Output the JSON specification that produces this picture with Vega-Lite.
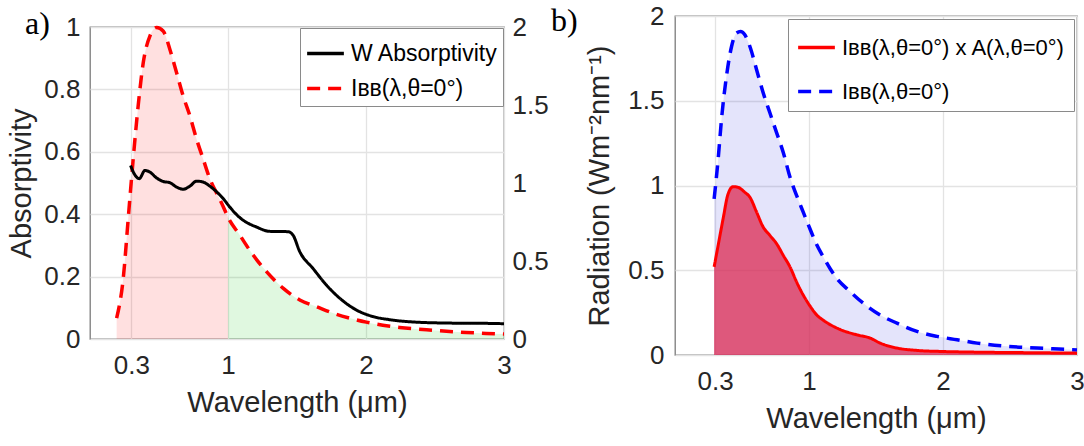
{
  "$schema": "https://vega.github.io/schema/vega-lite/v6.json",
  "padding": {"left": 7, "top": 2, "right": 0, "bottom": 0},
  "background": "white",
  "config": {
    "font": "Liberation Sans",
    "view": {"stroke": "#7b7b7b", "strokeWidth": 1.3},
    "axis": {
      "labelFont": "Liberation Sans", "labelFontSize": 26, "labelColor": "#262626",
      "titleFont": "Liberation Sans", "titleFontSize": 29, "titleFontWeight": "normal", "titleColor": "#262626",
      "domain": false, "ticks": false, "gridColor": "#e3e3e3", "gridWidth": 1.3,
      "labelFlush": false, "labelOverlap": false
    },
    "legend": {
      "labelFont": "Liberation Sans", "labelFontSize": 23, "labelColor": "black", "labelLimit": 600,
      "symbolType": "stroke", "symbolSize": 1350, "symbolStrokeWidth": 3.5,
      "strokeColor": "#8a8a8a", "fillColor": "white", "padding": 5, "rowPadding": 2, "labelOffset": 5
    },
    "title": {"font": "Liberation Serif", "fontSize": 32, "fontWeight": "normal", "color": "black"}
  },
  "datasets": {
    "aIbb": [
      {"wl": 0.193, "v": 0.134, "s": "Iʙʙ(λ,θ=0°)"},
      {"wl": 0.241, "v": 0.39, "s": "Iʙʙ(λ,θ=0°)"},
      {"wl": 0.277, "v": 0.772, "s": "Iʙʙ(λ,θ=0°)"},
      {"wl": 0.313, "v": 1.154, "s": "Iʙʙ(λ,θ=0°)"},
      {"wl": 0.349, "v": 1.494, "s": "Iʙʙ(λ,θ=0°)"},
      {"wl": 0.386, "v": 1.772, "s": "Iʙʙ(λ,θ=0°)"},
      {"wl": 0.434, "v": 1.942, "s": "Iʙʙ(λ,θ=0°)"},
      {"wl": 0.483, "v": 1.996, "s": "Iʙʙ(λ,θ=0°)"},
      {"wl": 0.530, "v": 1.974, "s": "Iʙʙ(λ,θ=0°)"},
      {"wl": 0.579, "v": 1.856, "s": "Iʙʙ(λ,θ=0°)"},
      {"wl": 0.627, "v": 1.708, "s": "Iʙʙ(λ,θ=0°)"},
      {"wl": 0.675, "v": 1.558, "s": "Iʙʙ(λ,θ=0°)"},
      {"wl": 0.724, "v": 1.43, "s": "Iʙʙ(λ,θ=0°)"},
      {"wl": 0.772, "v": 1.282, "s": "Iʙʙ(λ,θ=0°)"},
      {"wl": 0.820, "v": 1.154, "s": "Iʙʙ(λ,θ=0°)"},
      {"wl": 0.868, "v": 1.028, "s": "Iʙʙ(λ,θ=0°)"},
      {"wl": 0.917, "v": 0.936, "s": "Iʙʙ(λ,θ=0°)"},
      {"wl": 0.965, "v": 0.85, "s": "Iʙʙ(λ,θ=0°)"},
      {"wl": 1.0, "v": 0.78, "s": "Iʙʙ(λ,θ=0°)"},
      {"wl": 1.085, "v": 0.666, "s": "Iʙʙ(λ,θ=0°)"},
      {"wl": 1.182, "v": 0.538, "s": "Iʙʙ(λ,θ=0°)"},
      {"wl": 1.279, "v": 0.432, "s": "Iʙʙ(λ,θ=0°)"},
      {"wl": 1.399, "v": 0.326, "s": "Iʙʙ(λ,θ=0°)"},
      {"wl": 1.520, "v": 0.25, "s": "Iʙʙ(λ,θ=0°)"},
      {"wl": 1.640, "v": 0.208, "s": "Iʙʙ(λ,θ=0°)"},
      {"wl": 1.760, "v": 0.166, "s": "Iʙʙ(λ,θ=0°)"},
      {"wl": 1.881, "v": 0.134, "s": "Iʙʙ(λ,θ=0°)"},
      {"wl": 2.002, "v": 0.108, "s": "Iʙʙ(λ,θ=0°)"},
      {"wl": 2.122, "v": 0.088, "s": "Iʙʙ(λ,θ=0°)"},
      {"wl": 2.243, "v": 0.074, "s": "Iʙʙ(λ,θ=0°)"},
      {"wl": 2.484, "v": 0.056, "s": "Iʙʙ(λ,θ=0°)"},
      {"wl": 2.726, "v": 0.042, "s": "Iʙʙ(λ,θ=0°)"},
      {"wl": 2.870, "v": 0.036, "s": "Iʙʙ(λ,θ=0°)"},
      {"wl": 3.0, "v": 0.032, "s": "Iʙʙ(λ,θ=0°)"}
    ],
    "aAbs": [
      {"wl": 0.294, "v": 0.556, "s": "W Absorptivity"},
      {"wl": 0.320, "v": 0.530, "s": "W Absorptivity"},
      {"wl": 0.357, "v": 0.514, "s": "W Absorptivity"},
      {"wl": 0.398, "v": 0.540, "s": "W Absorptivity"},
      {"wl": 0.434, "v": 0.535, "s": "W Absorptivity"},
      {"wl": 0.483, "v": 0.516, "s": "W Absorptivity"},
      {"wl": 0.530, "v": 0.505, "s": "W Absorptivity"},
      {"wl": 0.579, "v": 0.501, "s": "W Absorptivity"},
      {"wl": 0.627, "v": 0.487, "s": "W Absorptivity"},
      {"wl": 0.675, "v": 0.480, "s": "W Absorptivity"},
      {"wl": 0.724, "v": 0.490, "s": "W Absorptivity"},
      {"wl": 0.772, "v": 0.506, "s": "W Absorptivity"},
      {"wl": 0.820, "v": 0.503, "s": "W Absorptivity"},
      {"wl": 0.868, "v": 0.490, "s": "W Absorptivity"},
      {"wl": 0.917, "v": 0.472, "s": "W Absorptivity"},
      {"wl": 0.965, "v": 0.450, "s": "W Absorptivity"},
      {"wl": 1.013, "v": 0.423, "s": "W Absorptivity"},
      {"wl": 1.073, "v": 0.394, "s": "W Absorptivity"},
      {"wl": 1.109, "v": 0.381, "s": "W Absorptivity"},
      {"wl": 1.206, "v": 0.359, "s": "W Absorptivity"},
      {"wl": 1.302, "v": 0.345, "s": "W Absorptivity"},
      {"wl": 1.435, "v": 0.344, "s": "W Absorptivity"},
      {"wl": 1.471, "v": 0.333, "s": "W Absorptivity"},
      {"wl": 1.520, "v": 0.280, "s": "W Absorptivity"},
      {"wl": 1.616, "v": 0.226, "s": "W Absorptivity"},
      {"wl": 1.713, "v": 0.173, "s": "W Absorptivity"},
      {"wl": 1.809, "v": 0.131, "s": "W Absorptivity"},
      {"wl": 1.930, "v": 0.093, "s": "W Absorptivity"},
      {"wl": 2.050, "v": 0.072, "s": "W Absorptivity"},
      {"wl": 2.171, "v": 0.062, "s": "W Absorptivity"},
      {"wl": 2.364, "v": 0.054, "s": "W Absorptivity"},
      {"wl": 2.605, "v": 0.051, "s": "W Absorptivity"},
      {"wl": 2.894, "v": 0.050, "s": "W Absorptivity"},
      {"wl": 3.0, "v": 0.049, "s": "W Absorptivity"}
    ],
    "bIbb": [
      {"wl": 0.292, "v": 0.921, "s": "Iʙʙ(λ,θ=0°)"},
      {"wl": 0.322, "v": 1.155, "s": "Iʙʙ(λ,θ=0°)"},
      {"wl": 0.347, "v": 1.390, "s": "Iʙʙ(λ,θ=0°)"},
      {"wl": 0.384, "v": 1.644, "s": "Iʙʙ(λ,θ=0°)"},
      {"wl": 0.422, "v": 1.820, "s": "Iʙʙ(λ,θ=0°)"},
      {"wl": 0.459, "v": 1.899, "s": "Iʙʙ(λ,θ=0°)"},
      {"wl": 0.489, "v": 1.908, "s": "Iʙʙ(λ,θ=0°)"},
      {"wl": 0.521, "v": 1.889, "s": "Iʙʙ(λ,θ=0°)"},
      {"wl": 0.559, "v": 1.820, "s": "Iʙʙ(λ,θ=0°)"},
      {"wl": 0.609, "v": 1.683, "s": "Iʙʙ(λ,θ=0°)"},
      {"wl": 0.658, "v": 1.547, "s": "Iʙʙ(λ,θ=0°)"},
      {"wl": 0.708, "v": 1.429, "s": "Iʙʙ(λ,θ=0°)"},
      {"wl": 0.758, "v": 1.312, "s": "Iʙʙ(λ,θ=0°)"},
      {"wl": 0.808, "v": 1.195, "s": "Iʙʙ(λ,θ=0°)"},
      {"wl": 0.858, "v": 1.05, "s": "Iʙʙ(λ,θ=0°)"},
      {"wl": 0.908, "v": 0.94, "s": "Iʙʙ(λ,θ=0°)"},
      {"wl": 0.957, "v": 0.843, "s": "Iʙʙ(λ,θ=0°)"},
      {"wl": 1.007, "v": 0.745, "s": "Iʙʙ(λ,θ=0°)"},
      {"wl": 1.058, "v": 0.65, "s": "Iʙʙ(λ,θ=0°)"},
      {"wl": 1.107, "v": 0.578, "s": "Iʙʙ(λ,θ=0°)"},
      {"wl": 1.157, "v": 0.51, "s": "Iʙʙ(λ,θ=0°)"},
      {"wl": 1.207, "v": 0.452, "s": "Iʙʙ(λ,θ=0°)"},
      {"wl": 1.307, "v": 0.374, "s": "Iʙʙ(λ,θ=0°)"},
      {"wl": 1.406, "v": 0.305, "s": "Iʙʙ(λ,θ=0°)"},
      {"wl": 1.531, "v": 0.236, "s": "Iʙʙ(λ,θ=0°)"},
      {"wl": 1.656, "v": 0.188, "s": "Iʙʙ(λ,θ=0°)"},
      {"wl": 1.806, "v": 0.139, "s": "Iʙʙ(λ,θ=0°)"},
      {"wl": 1.955, "v": 0.110, "s": "Iʙʙ(λ,θ=0°)"},
      {"wl": 2.105, "v": 0.090, "s": "Iʙʙ(λ,θ=0°)"},
      {"wl": 2.254, "v": 0.070, "s": "Iʙʙ(λ,θ=0°)"},
      {"wl": 2.479, "v": 0.051, "s": "Iʙʙ(λ,θ=0°)"},
      {"wl": 2.703, "v": 0.041, "s": "Iʙʙ(λ,θ=0°)"},
      {"wl": 2.865, "v": 0.035, "s": "Iʙʙ(λ,θ=0°)"},
      {"wl": 3.0, "v": 0.030, "s": "Iʙʙ(λ,θ=0°)"}
    ],
    "bProd": [
      {"wl": 0.292, "v": 0.520, "s": "Iʙʙ(λ,θ=0°) x A(λ,θ=0°)"},
      {"wl": 0.322, "v": 0.647, "s": "Iʙʙ(λ,θ=0°) x A(λ,θ=0°)"},
      {"wl": 0.359, "v": 0.804, "s": "Iʙʙ(λ,θ=0°) x A(λ,θ=0°)"},
      {"wl": 0.396, "v": 0.950, "s": "Iʙʙ(λ,θ=0°) x A(λ,θ=0°)"},
      {"wl": 0.434, "v": 0.993, "s": "Iʙʙ(λ,θ=0°) x A(λ,θ=0°)"},
      {"wl": 0.471, "v": 0.989, "s": "Iʙʙ(λ,θ=0°) x A(λ,θ=0°)"},
      {"wl": 0.521, "v": 0.960, "s": "Iʙʙ(λ,θ=0°) x A(λ,θ=0°)"},
      {"wl": 0.559, "v": 0.931, "s": "Iʙʙ(λ,θ=0°) x A(λ,θ=0°)"},
      {"wl": 0.609, "v": 0.843, "s": "Iʙʙ(λ,θ=0°) x A(λ,θ=0°)"},
      {"wl": 0.658, "v": 0.755, "s": "Iʙʙ(λ,θ=0°) x A(λ,θ=0°)"},
      {"wl": 0.708, "v": 0.706, "s": "Iʙʙ(λ,θ=0°) x A(λ,θ=0°)"},
      {"wl": 0.758, "v": 0.657, "s": "Iʙʙ(λ,θ=0°) x A(λ,θ=0°)"},
      {"wl": 0.808, "v": 0.588, "s": "Iʙʙ(λ,θ=0°) x A(λ,θ=0°)"},
      {"wl": 0.858, "v": 0.52, "s": "Iʙʙ(λ,θ=0°) x A(λ,θ=0°)"},
      {"wl": 0.908, "v": 0.43, "s": "Iʙʙ(λ,θ=0°) x A(λ,θ=0°)"},
      {"wl": 0.957, "v": 0.354, "s": "Iʙʙ(λ,θ=0°) x A(λ,θ=0°)"},
      {"wl": 1.007, "v": 0.29, "s": "Iʙʙ(λ,θ=0°) x A(λ,θ=0°)"},
      {"wl": 1.058, "v": 0.236, "s": "Iʙʙ(λ,θ=0°) x A(λ,θ=0°)"},
      {"wl": 1.107, "v": 0.205, "s": "Iʙʙ(λ,θ=0°) x A(λ,θ=0°)"},
      {"wl": 1.219, "v": 0.155, "s": "Iʙʙ(λ,θ=0°) x A(λ,θ=0°)"},
      {"wl": 1.357, "v": 0.119, "s": "Iʙʙ(λ,θ=0°) x A(λ,θ=0°)"},
      {"wl": 1.456, "v": 0.100, "s": "Iʙʙ(λ,θ=0°) x A(λ,θ=0°)"},
      {"wl": 1.531, "v": 0.070, "s": "Iʙʙ(λ,θ=0°) x A(λ,θ=0°)"},
      {"wl": 1.656, "v": 0.041, "s": "Iʙʙ(λ,θ=0°) x A(λ,θ=0°)"},
      {"wl": 1.806, "v": 0.027, "s": "Iʙʙ(λ,θ=0°) x A(λ,θ=0°)"},
      {"wl": 1.980, "v": 0.021, "s": "Iʙʙ(λ,θ=0°) x A(λ,θ=0°)"},
      {"wl": 2.229, "v": 0.017, "s": "Iʙʙ(λ,θ=0°) x A(λ,θ=0°)"},
      {"wl": 2.603, "v": 0.014, "s": "Iʙʙ(λ,θ=0°) x A(λ,θ=0°)"},
      {"wl": 2.877, "v": 0.012, "s": "Iʙʙ(λ,θ=0°) x A(λ,θ=0°)"},
      {"wl": 3.0, "v": 0.011, "s": "Iʙʙ(λ,θ=0°) x A(λ,θ=0°)"}
    ]
  },
  "hconcat": [
    {
      "vconcat": [
        {
          "width": 414, "height": 11,
          "view": {"stroke": null},
          "data": {"values": [{"k": 0}]},
          "mark": {"type": "point", "opacity": 0},
          "encoding": {}
        },
        {
          "width": 414, "height": 312,
          "title": {"text": "a)", "anchor": "start", "frame": "group", "dx": -65, "dy": 48, "offset": -4, "baseline": "alphabetic"},
          "encoding": {
            "x": {"field": "wl", "type": "quantitative", "scale": {"domain": [0, 3], "nice": false, "zero": false},
                  "axis": {"values": [0.3, 1, 2, 3], "format": "~g", "title": "Wavelength (μm)", "labelPadding": 13, "titlePadding": 10}}
          },
          "layer": [
            {
              "encoding": {
                "y": {"field": "v", "type": "quantitative", "scale": {"domain": [0, 2], "nice": false},
                      "axis": {"orient": "right", "values": [0, 0.5, 1, 1.5, 2], "format": "~g", "grid": false, "title": null, "labelPadding": 8}}
              },
              "layer": [
                {"data": {"name": "aIbb"}, "transform": [{"filter": "datum.wl <= 1"}],
                 "mark": {"type": "area", "color": "#ff0000", "opacity": 0.12, "interpolate": "monotone"}},
                {"data": {"name": "aIbb"}, "transform": [{"filter": "datum.wl >= 1"}],
                 "mark": {"type": "area", "color": "#00c800", "opacity": 0.12, "interpolate": "monotone"}},
                {"data": {"name": "aIbb"},
                 "mark": {"type": "line", "strokeWidth": 3.5, "interpolate": "monotone"},
                 "encoding": {
                   "color": {"field": "s", "type": "nominal", "scale": {"domain": ["W Absorptivity", "Iʙʙ(λ,θ=0°)"], "range": ["#000000", "#ff0000"]},
                             "legend": {"title": null, "orient": "top-right", "offset": 1}},
                   "strokeDash": {"field": "s", "type": "nominal", "scale": {"domain": ["W Absorptivity", "Iʙʙ(λ,θ=0°)"], "range": [[1, 0], [13, 8]]},
                             "legend": {"title": null, "orient": "top-right", "offset": 1}}
                 }}
              ]
            },
            {
              "data": {"name": "aAbs"},
              "mark": {"type": "line", "strokeWidth": 3, "interpolate": "monotone"},
              "encoding": {
                "y": {"field": "v", "type": "quantitative", "scale": {"domain": [0, 1], "nice": false},
                      "axis": {"orient": "left", "values": [0, 0.2, 0.4, 0.6, 0.8, 1], "format": "~g", "grid": true, "title": "Absorptivity", "labelPadding": 10, "titlePadding": 7}},
                "color": {"field": "s", "type": "nominal", "scale": {"domain": ["W Absorptivity", "Iʙʙ(λ,θ=0°)"], "range": ["#000000", "#ff0000"]},
                          "legend": {"title": null, "orient": "top-right", "offset": 1}},
                "strokeDash": {"field": "s", "type": "nominal", "scale": {"domain": ["W Absorptivity", "Iʙʙ(λ,θ=0°)"], "range": [[1, 0], [13, 8]]},
                          "legend": {"title": null, "orient": "top-right", "offset": 1}}
              }
            }
          ],
          "resolve": {"scale": {"y": "independent"}}
        }
      ],
      "spacing": 0,
      "bounds": "flush",
      "resolve": {"scale": {"color": "independent", "strokeDash": "independent"}, "legend": {"color": "independent", "strokeDash": "independent"}}
    },
    {
      "width": 402, "height": 339,
      "title": {"text": "b)", "anchor": "start", "frame": "group", "dx": -124, "dy": 49, "offset": -11, "baseline": "alphabetic"},
      "encoding": {
        "x": {"field": "wl", "type": "quantitative", "scale": {"domain": [0, 3], "nice": false, "zero": false},
              "axis": {"values": [0.3, 1, 2, 3], "format": "~g", "title": "Wavelength (μm)", "labelPadding": 13, "titlePadding": 10}},
        "y": {"field": "v", "type": "quantitative", "scale": {"domain": [0, 2], "nice": false},
              "axis": {"values": [0, 0.5, 1, 1.5, 2], "format": "~g", "grid": true, "title": "Radiation (Wm⁻²nm⁻¹)", "labelPadding": 11, "titlePadding": 13}}
      },
      "layer": [
        {"data": {"name": "bIbb"}, "mark": {"type": "area", "color": "#2020e0", "opacity": 0.12, "interpolate": "monotone"}},
        {"data": {"name": "bProd"}, "mark": {"type": "area", "color": "#dc2a52", "opacity": 0.75, "interpolate": "monotone"}},
        {"data": {"name": "bIbb"}, "mark": {"type": "line", "strokeWidth": 3.5, "interpolate": "monotone"},
         "encoding": {
           "color": {"field": "s", "type": "nominal", "scale": {"domain": ["Iʙʙ(λ,θ=0°) x A(λ,θ=0°)", "Iʙʙ(λ,θ=0°)"], "range": ["#ff0000", "#0000ff"]},
                     "legend": {"title": null, "orient": "top-right", "offset": 3, "labelFontSize": 22, "padding": 8, "rowPadding": 12}},
           "strokeDash": {"field": "s", "type": "nominal", "scale": {"domain": ["Iʙʙ(λ,θ=0°) x A(λ,θ=0°)", "Iʙʙ(λ,θ=0°)"], "range": [[1, 0], [13, 8]]},
                     "legend": {"title": null, "orient": "top-right", "offset": 3, "labelFontSize": 22, "padding": 8, "rowPadding": 12}}
         }},
        {"data": {"name": "bProd"}, "mark": {"type": "line", "strokeWidth": 3, "interpolate": "monotone"},
         "encoding": {
           "color": {"field": "s", "type": "nominal", "scale": {"domain": ["Iʙʙ(λ,θ=0°) x A(λ,θ=0°)", "Iʙʙ(λ,θ=0°)"], "range": ["#ff0000", "#0000ff"]},
                     "legend": {"title": null, "orient": "top-right", "offset": 3, "labelFontSize": 22, "padding": 8, "rowPadding": 12}},
           "strokeDash": {"field": "s", "type": "nominal", "scale": {"domain": ["Iʙʙ(λ,θ=0°) x A(λ,θ=0°)", "Iʙʙ(λ,θ=0°)"], "range": [[1, 0], [13, 8]]},
                     "legend": {"title": null, "orient": "top-right", "offset": 3, "labelFontSize": 22, "padding": 8, "rowPadding": 12}}
         }}
      ]
    }
  ],
  "spacing": 1,
  "resolve": {"scale": {"color": "independent", "strokeDash": "independent"}, "legend": {"color": "independent", "strokeDash": "independent"}}
}
